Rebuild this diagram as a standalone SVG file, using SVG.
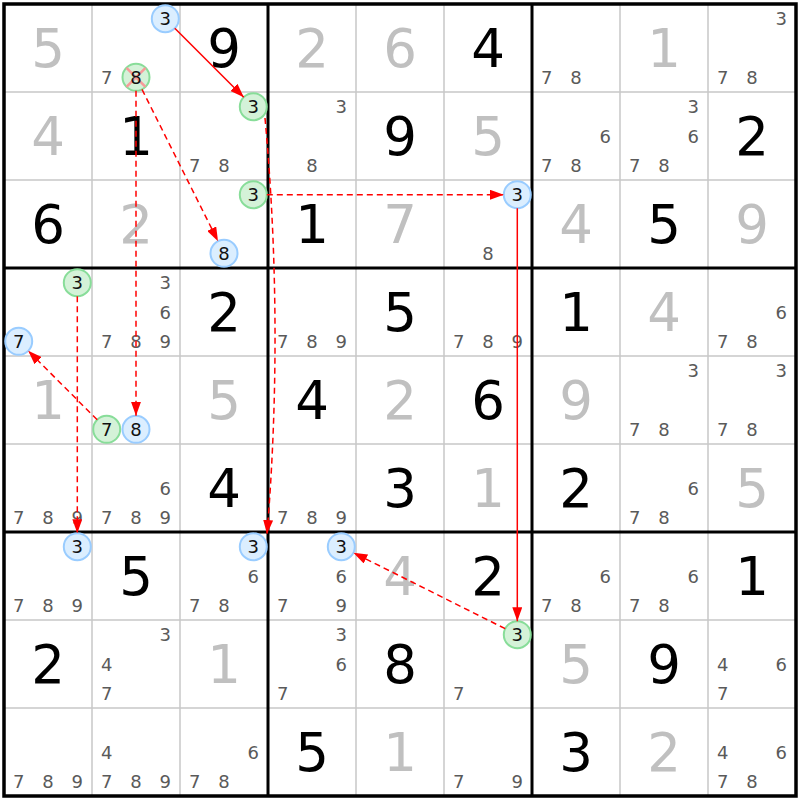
<svg xmlns="http://www.w3.org/2000/svg" width="800" height="800" viewBox="0 0 800 800">
<style>
.big{font-family:"DejaVu Sans","Verdana",sans-serif;font-size:53px;text-anchor:middle;fill:#000}
.sol{font-family:"DejaVu Sans","Verdana",sans-serif;font-size:53px;text-anchor:middle;fill:#c0c0c0}
.c{font-family:"DejaVu Sans","Verdana",sans-serif;font-size:18px;text-anchor:middle;fill:#5a5a5a}
.ct{font-family:"DejaVu Sans","Verdana",sans-serif;font-size:18px;text-anchor:middle;fill:#111}
.thin{stroke:#c8c8c8;stroke-width:1.5}
.thick{stroke:#000;stroke-width:3}
.blue{fill:#dbeeff;stroke:#99ccff;stroke-width:2}
.green{fill:#d4f2d8;stroke:#88dd99;stroke-width:2}
.solid{stroke:#f00;stroke-width:1.5;fill:none;marker-end:url(#ah)}
.dash{stroke:#f00;stroke-width:1.5;fill:none;stroke-dasharray:6 4;marker-end:url(#ah)}
</style>
<defs>
<marker id="ah" viewBox="0 0 14 10" refX="14" refY="5" markerWidth="14" markerHeight="10" markerUnits="userSpaceOnUse" orient="auto">
<path d="M0,0 L14,5 L0,10 z" fill="#f00"/>
</marker>
</defs>
<rect x="0" y="0" width="800" height="800" fill="#fff"/>
<g id="grid">
<path class="thin" d="M92,4V796M180,4V796M356,4V796M444,4V796M620,4V796M708,4V796M4,92H796M4,180H796M4,356H796M4,444H796M4,620H796M4,708H796"/>
<path class="thick" d="M268,4V796M532,4V796M4,268H796M4,532H796"/>
<rect x="4" y="4" width="792" height="792" fill="none" stroke="#000" stroke-width="3.5"/>
</g>
<g id="digits">
<text class="sol" x="48" y="67">5</text>
<text class="big" x="224" y="67">9</text>
<text class="sol" x="312" y="67">2</text>
<text class="sol" x="400" y="67">6</text>
<text class="big" x="488" y="67">4</text>
<text class="sol" x="664" y="67">1</text>
<text class="sol" x="48" y="155">4</text>
<text class="big" x="136" y="155">1</text>
<text class="big" x="400" y="155">9</text>
<text class="sol" x="488" y="155">5</text>
<text class="big" x="752" y="155">2</text>
<text class="big" x="48" y="243">6</text>
<text class="sol" x="136" y="243">2</text>
<text class="big" x="312" y="243">1</text>
<text class="sol" x="400" y="243">7</text>
<text class="sol" x="576" y="243">4</text>
<text class="big" x="664" y="243">5</text>
<text class="sol" x="752" y="243">9</text>
<text class="big" x="224" y="331">2</text>
<text class="big" x="400" y="331">5</text>
<text class="big" x="576" y="331">1</text>
<text class="sol" x="664" y="331">4</text>
<text class="sol" x="48" y="419">1</text>
<text class="sol" x="224" y="419">5</text>
<text class="big" x="312" y="419">4</text>
<text class="sol" x="400" y="419">2</text>
<text class="big" x="488" y="419">6</text>
<text class="sol" x="576" y="419">9</text>
<text class="big" x="224" y="507">4</text>
<text class="big" x="400" y="507">3</text>
<text class="sol" x="488" y="507">1</text>
<text class="big" x="576" y="507">2</text>
<text class="sol" x="752" y="507">5</text>
<text class="big" x="136" y="595">5</text>
<text class="sol" x="400" y="595">4</text>
<text class="big" x="488" y="595">2</text>
<text class="big" x="752" y="595">1</text>
<text class="big" x="48" y="683">2</text>
<text class="sol" x="224" y="683">1</text>
<text class="big" x="400" y="683">8</text>
<text class="sol" x="576" y="683">5</text>
<text class="big" x="664" y="683">9</text>
<text class="big" x="312" y="771">5</text>
<text class="sol" x="400" y="771">1</text>
<text class="big" x="576" y="771">3</text>
<text class="sol" x="664" y="771">2</text>
</g>
<g id="candidates">
<text class="c" x="106.7" y="83.8">7</text>
<text class="c" x="546.7" y="83.8">7</text><text class="c" x="576" y="83.8">8</text>
<text class="c" x="781.3" y="25.2">3</text><text class="c" x="722.7" y="83.8">7</text><text class="c" x="752" y="83.8">8</text>
<text class="c" x="194.7" y="171.8">7</text><text class="c" x="224" y="171.8">8</text>
<text class="c" x="341.3" y="113.2">3</text><text class="c" x="312" y="171.8">8</text>
<text class="c" x="605.3" y="142.5">6</text><text class="c" x="546.7" y="171.8">7</text><text class="c" x="576" y="171.8">8</text>
<text class="c" x="693.3" y="113.2">3</text><text class="c" x="693.3" y="142.5">6</text><text class="c" x="634.7" y="171.8">7</text><text class="c" x="664" y="171.8">8</text>
<text class="c" x="488" y="259.8">8</text>
<text class="c" x="165.3" y="289.2">3</text><text class="c" x="165.3" y="318.5">6</text><text class="c" x="106.7" y="347.8">7</text><text class="c" x="136" y="347.8">8</text><text class="c" x="165.3" y="347.8">9</text>
<text class="c" x="282.7" y="347.8">7</text><text class="c" x="312" y="347.8">8</text><text class="c" x="341.3" y="347.8">9</text>
<text class="c" x="458.7" y="347.8">7</text><text class="c" x="488" y="347.8">8</text><text class="c" x="517.3" y="347.8">9</text>
<text class="c" x="781.3" y="318.5">6</text><text class="c" x="722.7" y="347.8">7</text><text class="c" x="752" y="347.8">8</text>
<text class="c" x="693.3" y="377.2">3</text><text class="c" x="634.7" y="435.8">7</text><text class="c" x="664" y="435.8">8</text>
<text class="c" x="781.3" y="377.2">3</text><text class="c" x="722.7" y="435.8">7</text><text class="c" x="752" y="435.8">8</text>
<text class="c" x="18.7" y="523.8">7</text><text class="c" x="48" y="523.8">8</text><text class="c" x="77.3" y="523.8">9</text>
<text class="c" x="165.3" y="494.5">6</text><text class="c" x="106.7" y="523.8">7</text><text class="c" x="136" y="523.8">8</text><text class="c" x="165.3" y="523.8">9</text>
<text class="c" x="282.7" y="523.8">7</text><text class="c" x="312" y="523.8">8</text><text class="c" x="341.3" y="523.8">9</text>
<text class="c" x="693.3" y="494.5">6</text><text class="c" x="634.7" y="523.8">7</text><text class="c" x="664" y="523.8">8</text>
<text class="c" x="18.7" y="611.8">7</text><text class="c" x="48" y="611.8">8</text><text class="c" x="77.3" y="611.8">9</text>
<text class="c" x="253.3" y="582.5">6</text><text class="c" x="194.7" y="611.8">7</text><text class="c" x="224" y="611.8">8</text>
<text class="c" x="341.3" y="582.5">6</text><text class="c" x="282.7" y="611.8">7</text><text class="c" x="341.3" y="611.8">9</text>
<text class="c" x="605.3" y="582.5">6</text><text class="c" x="546.7" y="611.8">7</text><text class="c" x="576" y="611.8">8</text>
<text class="c" x="693.3" y="582.5">6</text><text class="c" x="634.7" y="611.8">7</text><text class="c" x="664" y="611.8">8</text>
<text class="c" x="165.3" y="641.2">3</text><text class="c" x="106.7" y="670.5">4</text><text class="c" x="106.7" y="699.8">7</text>
<text class="c" x="341.3" y="641.2">3</text><text class="c" x="341.3" y="670.5">6</text><text class="c" x="282.7" y="699.8">7</text>
<text class="c" x="458.7" y="699.8">7</text>
<text class="c" x="722.7" y="670.5">4</text><text class="c" x="781.3" y="670.5">6</text><text class="c" x="722.7" y="699.8">7</text>
<text class="c" x="18.7" y="787.8">7</text><text class="c" x="48" y="787.8">8</text><text class="c" x="77.3" y="787.8">9</text>
<text class="c" x="106.7" y="758.5">4</text><text class="c" x="106.7" y="787.8">7</text><text class="c" x="136" y="787.8">8</text><text class="c" x="165.3" y="787.8">9</text>
<text class="c" x="253.3" y="758.5">6</text><text class="c" x="194.7" y="787.8">7</text><text class="c" x="224" y="787.8">8</text>
<text class="c" x="458.7" y="787.8">7</text><text class="c" x="517.3" y="787.8">9</text>
<text class="c" x="722.7" y="758.5">4</text><text class="c" x="781.3" y="758.5">6</text><text class="c" x="722.7" y="787.8">7</text><text class="c" x="752" y="787.8">8</text>
</g>
<g id="n-r0c1-3"><circle class="blue" cx="165.3" cy="18.7" r="13.5"/><text class="ct" x="165.3" y="25.2">3</text></g>
<g id="n-r0c1-8"><circle class="green" cx="136" cy="77.3" r="13.5"/><path d="M126.5,67.8L145.5,86.8M145.5,67.8L126.5,86.8" stroke="#f79a9a" stroke-width="2.5"/><text class="ct" x="136" y="83.8">8</text></g>
<g id="n-r1c2-3"><circle class="green" cx="253.3" cy="106.7" r="13.5"/><text class="ct" x="253.3" y="113.2">3</text></g>
<g id="n-r2c2-3"><circle class="green" cx="253.3" cy="194.7" r="13.5"/><text class="ct" x="253.3" y="201.2">3</text></g>
<g id="n-r2c2-8"><circle class="blue" cx="224" cy="253.3" r="13.5"/><text class="ct" x="224" y="259.8">8</text></g>
<g id="n-r2c5-3"><circle class="blue" cx="517.3" cy="194.7" r="13.5"/><text class="ct" x="517.3" y="201.2">3</text></g>
<g id="n-r3c0-3"><circle class="green" cx="77.3" cy="282.7" r="13.5"/><text class="ct" x="77.3" y="289.2">3</text></g>
<g id="n-r3c0-7"><circle class="blue" cx="18.7" cy="341.3" r="13.5"/><text class="ct" x="18.7" y="347.8">7</text></g>
<g id="n-r4c1-7"><circle class="green" cx="106.7" cy="429.3" r="13.5"/><text class="ct" x="106.7" y="435.8">7</text></g>
<g id="n-r4c1-8"><circle class="blue" cx="136" cy="429.3" r="13.5"/><text class="ct" x="136" y="435.8">8</text></g>
<g id="n-r6c0-3"><circle class="blue" cx="77.3" cy="546.7" r="13.5"/><text class="ct" x="77.3" y="553.2">3</text></g>
<g id="n-r6c2-3"><circle class="blue" cx="253.3" cy="546.7" r="13.5"/><text class="ct" x="253.3" y="553.2">3</text></g>
<g id="n-r6c3-3"><circle class="blue" cx="341.3" cy="546.7" r="13.5"/><text class="ct" x="341.3" y="553.2">3</text></g>
<g id="n-r7c5-3"><circle class="green" cx="517.3" cy="634.7" r="13.5"/><text class="ct" x="517.3" y="641.2">3</text></g>
<g id="connectors">
<path class="solid" d="M174.8,28.2L243.8,97.2"/>
<path class="dash" d="M265,118Q284,326 267,534"/>
<path class="dash" d="M266.8,194.7H503.8"/>
<path class="solid" d="M517.3,208.2V621.2"/>
<path class="dash" d="M505.2,628.7L353.4,552.7"/>
<path class="dash" d="M77.3,296.2V533.2"/>
<path class="dash" d="M136,90.8V415.8"/>
<path class="dash" d="M142,89.4L218,241.2"/>
<path class="dash" d="M97.2,419.8L28.2,350.8"/>
</g>
</svg>
